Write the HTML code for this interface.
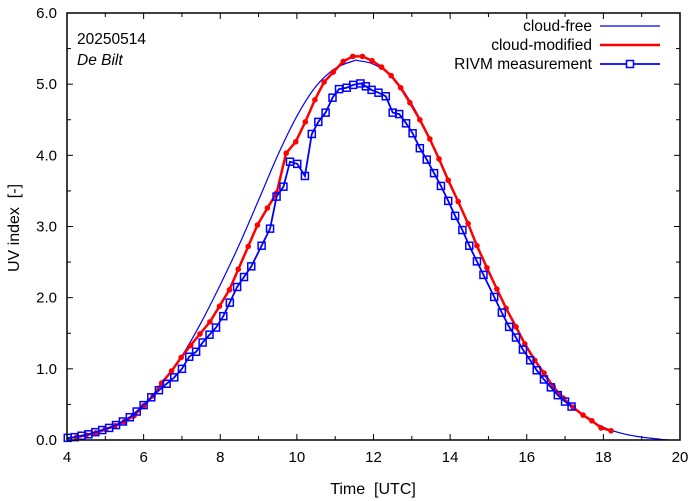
<!DOCTYPE html>
<html><head><meta charset="utf-8"><style>
body{margin:0;background:#fff}
svg{display:block;font-family:"Liberation Sans",sans-serif}
</style></head><body>
<svg id="chart" width="694" height="501"></svg>
<script>
const cfTimes=[4,4.5,5,5.5,6,6.5,7,7.5,8,8.5,9,9.5,10,10.5,11,11.5,11.6,12,12.5,13,13.5,14,14.5,15,15.5,16,16.5,17,17.5,18,18.5,19,19.5,19.7];
const cfValues=[0.02,0.06,0.14,0.27,0.48,0.8,1.18,1.65,2.18,2.75,3.37,4.0,4.55,4.97,5.22,5.33,5.33,5.28,5.1,4.72,4.2,3.6,2.99,2.38,1.8,1.3,0.88,0.56,0.33,0.18,0.09,0.04,0.01,0.0];
const cmTimes=[4.25,4.5,4.75,5.0,5.25,5.5,5.75,6.0,6.25,6.47,6.73,6.98,7.23,7.47,7.73,7.98,8.24,8.47,8.73,8.97,9.23,9.47,9.72,9.97,10.22,10.47,10.71,10.95,11.21,11.46,11.71,11.96,12.21,12.46,12.71,12.95,13.21,13.47,13.71,13.95,14.21,14.47,14.70,14.96,15.22,15.46,15.72,15.95,16.21,16.45,16.69,16.95,17.21,17.47,17.70,17.94,18.2];
const cmValues=[0.04,0.07,0.10,0.15,0.20,0.26,0.34,0.48,0.62,0.80,0.97,1.16,1.33,1.49,1.66,1.88,2.11,2.40,2.72,3.02,3.26,3.47,4.03,4.19,4.47,4.78,5.03,5.17,5.32,5.39,5.39,5.33,5.24,5.12,4.95,4.74,4.50,4.23,3.95,3.65,3.35,3.04,2.73,2.42,2.12,1.85,1.59,1.35,1.12,0.94,0.75,0.59,0.46,0.35,0.27,0.17,0.13];
const msTimes=[4.02,4.2,4.38,4.56,4.74,4.92,5.1,5.28,5.46,5.64,5.82,6.0,6.2,6.4,6.6,6.8,7.0,7.19,7.37,7.54,7.72,7.89,8.08,8.25,8.44,8.62,8.81,9.08,9.30,9.47,9.65,9.82,10.01,10.21,10.39,10.56,10.75,10.93,11.10,11.30,11.47,11.66,11.80,11.95,12.13,12.32,12.50,12.67,12.85,13.02,13.21,13.39,13.58,13.76,13.95,14.13,14.32,14.50,14.70,14.87,15.15,15.35,15.54,15.72,15.90,16.09,16.26,16.45,16.63,16.81,17.00,17.17];
const msValues=[0.03,0.04,0.06,0.08,0.11,0.14,0.17,0.21,0.26,0.32,0.40,0.49,0.60,0.70,0.79,0.88,1.00,1.17,1.24,1.37,1.48,1.58,1.74,1.93,2.15,2.29,2.44,2.73,2.97,3.42,3.56,3.91,3.88,3.71,4.30,4.47,4.60,4.81,4.93,4.95,4.99,5.01,4.97,4.92,4.88,4.83,4.60,4.58,4.45,4.31,4.10,3.94,3.75,3.57,3.36,3.15,2.95,2.73,2.51,2.32,2.01,1.79,1.59,1.44,1.27,1.12,0.98,0.85,0.74,0.63,0.54,0.47];
const xTickLabels=["4","6","8","10","12","14","16","18","20"];
const yTickLabels=["0.0","1.0","2.0","3.0","4.0","5.0","6.0"];

const NS="http://www.w3.org/2000/svg";
const svg=document.getElementById('chart');
const L=67,R=680,T=13,B=440;
const xs=t=>L+(t-4)/16*(R-L);
const ys=v=>B-v/6*(B-T);
function mk(tag,attrs,parent){const e=document.createElementNS(NS,tag);for(const k in attrs)e.setAttribute(k,attrs[k]);(parent||svg).appendChild(e);return e;}

const tg=mk('g',{stroke:'#000','stroke-width':1});


for(let h=4;h<=20;h++){const x=xs(h);const len=(h%2===0)?6:4;
  mk('line',{x1:x,y1:B,x2:x,y2:B-len},tg);mk('line',{x1:x,y1:T,x2:x,y2:T+len},tg);}
for(let i=0;i<=12;i++){const y=ys(i*0.5);const len=(i%2===0)?6:4;
  mk('line',{x1:L,y1:y,x2:L+len,y2:y},tg);mk('line',{x1:R,y1:y,x2:R-len,y2:y},tg);}
xTickLabels.forEach(s=>{const t=mk('text',{x:xs(+s),y:B+22,'text-anchor':'middle','font-size':15});t.textContent=s;
  
  });
yTickLabels.forEach(s=>{const t=mk('text',{x:L-10,y:ys(+s)+5,'text-anchor':'end','font-size':15});t.textContent=s;
  
  });

function pathD(ts,vs){return ts.map((t,i)=>(i?'L':'M')+xs(t).toFixed(1)+','+ys(vs[i]).toFixed(1)).join(' ');}
function smoothD(ts,vs){const p=ts.map((t,i)=>[xs(t),ys(vs[i])]);let d='M'+p[0][0]+','+p[0][1];
  for(let i=0;i<p.length-1;i++){const p0=p[Math.max(0,i-1)],p1=p[i],p2=p[i+1],p3=p[Math.min(p.length-1,i+2)];
    const c1=[p1[0]+(p2[0]-p0[0])/6,p1[1]+(p2[1]-p0[1])/6],c2=[p2[0]-(p3[0]-p1[0])/6,p2[1]-(p3[1]-p1[1])/6];
    d+=' C'+c1.join(',')+' '+c2.join(',')+' '+p2.join(',');}return d;}

const cf=mk('path',{d:smoothD(cfTimes,cfValues),fill:'none',stroke:'#0000ff','stroke-width':1.2});



const cm=mk('path',{d:pathD(cmTimes,cmValues),fill:'none',stroke:'#ff0000','stroke-width':2.5});


cmTimes.forEach((t,i)=>{const c=mk('circle',{cx:xs(t),cy:ys(cmValues[i]),r:2.8,fill:'#ff0000'});
  
  });

const ms=mk('path',{d:pathD(msTimes,msValues),fill:'none',stroke:'#0000ff','stroke-width':1.8});


msTimes.forEach((t,i)=>{const s=mk('rect',{x:xs(t)-3.5,y:ys(msValues[i])-3.5,width:7,height:7,fill:'none',stroke:'#0000ff','stroke-width':1.5});
  
  });

const fr=mk('rect',{x:L,y:T,width:R-L,height:B-T,fill:'none',stroke:'#000','stroke-width':1.5});


</script>
<svg width="694" height="501" style="position:absolute;left:0;top:0">
<g font-family="Liberation Sans, sans-serif" font-size="15.5">
<text x="77" y="44">20250514</text>
<text x="77" y="65" font-style="italic">De Bilt</text>
<text x="592" y="31" text-anchor="end">cloud-free</text>
<line x1="600" y1="26" x2="660" y2="26" stroke="#0000ff" stroke-width="1.2"/>
<text x="592" y="50" text-anchor="end">cloud-modified</text>
<line x1="600" y1="45" x2="660" y2="45" stroke="#ff0000" stroke-width="2.5"/>
<text x="592" y="69" text-anchor="end">RIVM measurement</text>
<line x1="600" y1="64" x2="660" y2="64" stroke="#0000ff" stroke-width="1.8"/>
<rect x="626.5" y="60.5" width="7" height="7" fill="#fff" stroke="#0000ff" stroke-width="1.5"/>
<text x="373" y="494" text-anchor="middle" font-size="16">Time &#160;[UTC]</text>
<text transform="translate(19,228) rotate(-90)" text-anchor="middle" font-size="16">UV index &#160;[-]</text>
</g></svg>
</body></html>
